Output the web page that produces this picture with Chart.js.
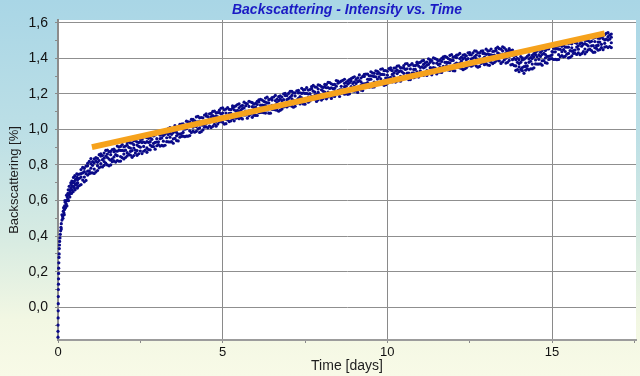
<!DOCTYPE html>
<html><head><meta charset="utf-8">
<script src="https://cdn.jsdelivr.net/npm/chart.js@4.4.0/dist/chart.umd.min.js"></script>
<style>
html,body{margin:0;padding:0;}
body{width:640px;height:376px;overflow:hidden;background:linear-gradient(to bottom,#a9d6e6 0%,#bcdfe6 35%,#d9ece2 65%,#f2f7e3 85%,#f8fae7 100%);}
#wrap{position:relative;width:640px;height:376px;}
</style></head><body><div id="wrap"><canvas id="c" width="640" height="376"></canvas></div>
<script>
// Early phase (first hours): time [days] and backscattering [%]
const earlyTime = [0,0,0.002,0.004,0.006,0.008,0.01,0.012,0.014,0.016,0.018,0.02,0.025,0.03,0.035,0.04,0.045,0.05,0.06,0.07,0.08,0.09,0.1,0.1,0.12,0.12,0.14,0.16,0.18,0.2,0.2,0.22,0.25,0.25,0.28,0.3,0.3,0.33,0.35,0.38,0.4,0.4,0.43,0.45,0.48,0.5,0.5,0.53,0.55,0.58,0.58,
  0.15,0.17,0.19,0.21,0.23,0.26,0.27,0.29,0.31,0.32,0.34,0.36,0.37,0.39,0.41,0.42,0.44,0.46,0.47,0.49,0.51,0.52,0.54,0.56,0.57,0.59];
const earlyValue = [-0.168,-0.135,-0.1,-0.06,-0.02,0.02,0.06,0.1,0.13,0.16,0.19,0.22,0.25,0.28,0.3,0.33,0.35,0.37,0.39,0.41,0.43,0.45,0.47,0.44,0.49,0.52,0.51,0.54,0.53,0.57,0.55,0.59,0.6,0.58,0.62,0.61,0.64,0.63,0.66,0.64,0.67,0.69,0.66,0.7,0.68,0.71,0.67,0.69,0.72,0.7,0.73,
  0.50,0.56,0.52,0.60,0.56,0.63,0.57,0.60,0.66,0.60,0.68,0.62,0.65,0.70,0.64,0.71,0.68,0.65,0.73,0.70,0.74,0.66,0.72,0.69,0.75,0.67];

// Main phase, scan set 1: times [days] and four readings per time [%]
const time = [0.6,0.7,0.8,0.9,1.0,1.1,1.2,1.3,1.4,1.5,1.6,1.7,1.8,1.9,2.0,2.1,2.2,2.3,2.4,2.5,2.6,2.7,2.8,2.9,3.0,3.1,3.2,3.3,3.4,3.5,3.6,3.7,3.8,3.9,4.0,4.1,4.2,4.3,4.4,4.5,4.6,4.7,4.8,4.9,5.0,5.1,5.2,5.3,5.4,5.5,5.6,5.7,5.8,5.9,6.0,6.1,6.2,6.3,6.4,6.5,6.6,6.7,6.8,6.9,7.0,7.1,7.2,7.3,7.4,7.5,7.6,7.7,7.8,7.9,8.0,8.1,8.2,8.3,8.4,8.5,8.6,8.7,8.8,8.9,9.0,9.1,9.2,9.3,9.4,9.5,9.6,9.7,9.8,9.9,10.0,10.1,10.2,10.3,10.4,10.5,10.6,10.7,10.8,10.9,11.0,11.1,11.2,11.3,11.4,11.5,11.6,11.7,11.8,11.9,12.0,12.1,12.2,12.3,12.4,12.5,12.6,12.7,12.8,12.9,13.0,13.1,13.2,13.3,13.4,13.5,13.6,13.7,13.8,13.9,14.0,14.1,14.2,14.3,14.4,14.5,14.6,14.7,14.8,14.9,15.0,15.1,15.2,15.3,15.4,15.5,15.6,15.7,15.8,15.9,16.0,16.1,16.2,16.3,16.4,16.5,16.6,16.7,16.8];
const scanA = [0.678,0.751,0.732,0.809,0.782,0.812,0.769,0.850,0.798,0.861,0.827,0.889,0.852,0.882,0.834,0.911,0.855,0.914,0.881,0.944,0.904,0.931,0.885,0.963,0.908,0.967,0.934,0.997,0.956,0.982,0.937,1.016,0.962,1.023,0.992,1.056,1.016,1.043,0.997,1.075,1.019,1.078,1.045,1.108,1.067,1.092,1.044,1.120,1.063,1.121,1.086,1.147,1.104,1.128,1.079,1.154,1.096,1.153,1.118,1.179,1.137,1.162,1.114,1.190,1.133,1.191,1.157,1.219,1.177,1.202,1.153,1.228,1.170,1.227,1.192,1.253,1.210,1.234,1.185,1.260,1.202,1.259,1.224,1.285,1.242,1.268,1.221,1.298,1.242,1.301,1.266,1.327,1.284,1.308,1.259,1.334,1.276,1.333,1.298,1.359,1.316,1.340,1.291,1.366,1.308,1.365,1.330,1.391,1.348,1.372,1.322,1.396,1.337,1.393,1.357,1.417,1.373,1.396,1.346,1.420,1.361,1.417,1.381,1.441,1.397,1.420,1.370,1.444,1.385,1.441,1.400,1.454,1.392,1.392,1.324,1.390,1.333,1.396,1.367,1.434,1.394,1.421,1.375,1.453,1.398,1.455,1.420,1.481,1.438,1.462,1.413,1.488,1.430,1.487,1.452,1.513,1.470,1.494,1.445,1.520,1.463,1.521,1.487];
const scanB = [0.718,0.690,0.781,0.765,0.836,0.777,0.837,0.808,0.838,0.800,0.876,0.845,0.906,0.847,0.902,0.869,0.895,0.853,0.930,0.900,0.958,0.896,0.953,0.921,0.948,0.906,0.983,0.953,1.010,0.947,1.005,0.974,1.002,0.962,1.041,1.012,1.070,1.008,1.065,1.033,1.059,1.017,1.094,1.064,1.121,1.057,1.112,1.078,1.103,1.060,1.135,1.103,1.158,1.093,1.147,1.112,1.136,1.092,1.167,1.135,1.191,1.127,1.182,1.148,1.173,1.130,1.206,1.175,1.231,1.167,1.221,1.186,1.210,1.166,1.241,1.209,1.264,1.199,1.253,1.218,1.242,1.198,1.273,1.241,1.296,1.233,1.289,1.256,1.282,1.240,1.315,1.283,1.338,1.273,1.327,1.292,1.316,1.272,1.347,1.315,1.370,1.305,1.359,1.324,1.348,1.304,1.379,1.347,1.402,1.337,1.390,1.354,1.377,1.332,1.406,1.373,1.427,1.361,1.414,1.378,1.401,1.356,1.430,1.397,1.451,1.385,1.438,1.402,1.425,1.380,1.449,1.410,1.446,1.357,1.392,1.348,1.373,1.335,1.416,1.390,1.448,1.386,1.443,1.411,1.438,1.394,1.469,1.437,1.492,1.427,1.481,1.446,1.470,1.426,1.501,1.469,1.524,1.459,1.513,1.478,1.503,1.460,1.536];
const scanC = [0.747,0.732,0.705,0.743,0.755,0.834,0.815,0.790,0.867,0.842,0.800,0.823,0.825,0.904,0.880,0.851,0.924,0.895,0.854,0.878,0.877,0.953,0.931,0.903,0.977,0.948,0.907,0.931,0.929,1.004,0.983,0.956,1.031,1.004,0.965,0.990,0.989,1.065,1.043,1.015,1.088,1.059,1.018,1.042,1.040,1.114,1.090,1.060,1.132,1.102,1.059,1.081,1.077,1.150,1.125,1.094,1.165,1.134,1.091,1.113,1.110,1.184,1.160,1.130,1.202,1.172,1.130,1.153,1.150,1.224,1.199,1.168,1.239,1.208,1.165,1.187,1.183,1.256,1.231,1.200,1.271,1.240,1.197,1.219,1.215,1.290,1.267,1.238,1.311,1.282,1.239,1.261,1.257,1.330,1.305,1.274,1.345,1.314,1.271,1.293,1.289,1.362,1.337,1.306,1.377,1.346,1.303,1.325,1.321,1.394,1.368,1.336,1.406,1.374,1.330,1.351,1.346,1.418,1.392,1.360,1.430,1.398,1.354,1.375,1.370,1.442,1.416,1.384,1.454,1.422,1.373,1.388,1.365,1.414,1.370,1.330,1.402,1.377,1.340,1.368,1.367,1.443,1.421,1.393,1.467,1.436,1.393,1.415,1.411,1.484,1.459,1.428,1.499,1.468,1.425,1.447,1.443,1.516,1.491,1.460,1.532,1.502,1.460];
const scanD = [0.699,0.774,0.763,0.795,0.807,0.752,0.796,0.862,0.819,0.884,0.858,0.875,0.877,0.822,0.861,0.923,0.876,0.937,0.912,0.930,0.929,0.871,0.912,0.975,0.929,0.990,0.965,0.983,0.981,0.922,0.964,1.028,0.983,1.046,1.023,1.042,1.041,0.983,1.024,1.087,1.040,1.101,1.076,1.094,1.092,1.032,1.071,1.132,1.084,1.144,1.117,1.133,1.129,1.068,1.106,1.166,1.117,1.176,1.149,1.165,1.162,1.102,1.141,1.202,1.154,1.214,1.188,1.205,1.202,1.142,1.180,1.240,1.191,1.250,1.223,1.239,1.235,1.174,1.212,1.272,1.223,1.282,1.255,1.271,1.267,1.208,1.248,1.310,1.263,1.324,1.297,1.313,1.309,1.248,1.286,1.346,1.297,1.356,1.329,1.345,1.341,1.280,1.318,1.378,1.329,1.388,1.361,1.377,1.373,1.312,1.349,1.408,1.358,1.416,1.388,1.403,1.398,1.336,1.373,1.432,1.382,1.440,1.412,1.427,1.422,1.360,1.397,1.456,1.406,1.464,1.431,1.440,1.417,1.332,1.351,1.402,1.354,1.419,1.398,1.420,1.419,1.361,1.402,1.465,1.419,1.478,1.451,1.467,1.463,1.402,1.440,1.500,1.451,1.510,1.483,1.499,1.495,1.434,1.472,1.532,1.484,1.544,1.518];

// Main phase, scan set 2: times [days] and three readings per time [%]
const time2 = [0.65,0.75,0.85,0.95,1.05,1.15,1.25,1.35,1.45,1.55,1.65,1.75,1.85,1.95,2.05,2.15,2.25,2.35,2.45,2.55,2.65,2.75,2.85,2.95,3.05,3.15,3.25,3.35,3.45,3.55,3.65,3.75,3.85,3.95,4.05,4.15,4.25,4.35,4.45,4.55,4.65,4.75,4.85,4.95,5.05,5.15,5.25,5.35,5.45,5.55,5.65,5.75,5.85,5.95,6.05,6.15,6.25,6.35,6.45,6.55,6.65,6.75,6.85,6.95,7.05,7.15,7.25,7.35,7.45,7.55,7.65,7.75,7.85,7.95,8.05,8.15,8.25,8.35,8.45,8.55,8.65,8.75,8.85,8.95,9.05,9.15,9.25,9.35,9.45,9.55,9.65,9.75,9.85,9.95,10.05,10.15,10.25,10.35,10.45,10.55,10.65,10.75,10.85,10.95,11.05,11.15,11.25,11.35,11.45,11.55,11.65,11.75,11.85,11.95,12.05,12.15,12.25,12.35,12.45,12.55,12.65,12.75,12.85,12.95,13.05,13.15,13.25,13.35,13.45,13.55,13.65,13.75,13.85,13.95,14.05,14.15,14.25,14.35,14.45,14.55,14.65,14.75,14.85,14.95,15.05,15.15,15.25,15.35,15.45,15.55,15.65,15.75,15.85,15.95,16.05,16.15,16.25,16.35,16.45,16.55,16.65,16.75];
const scanE = [0.725,0.715,0.793,0.767,0.819,0.761,0.825,0.830,0.810,0.875,0.834,0.879,0.821,0.882,0.883,0.859,0.923,0.883,0.926,0.864,0.925,0.927,0.904,0.969,0.930,0.973,0.911,0.971,0.972,0.949,1.015,0.977,1.022,0.962,1.023,1.025,1.002,1.067,1.028,1.072,1.010,1.070,1.071,1.047,1.110,1.069,1.111,1.048,1.107,1.107,1.081,1.143,1.101,1.142,1.078,1.136,1.135,1.109,1.171,1.129,1.171,1.108,1.167,1.167,1.142,1.205,1.164,1.206,1.143,1.202,1.201,1.175,1.237,1.195,1.236,1.172,1.230,1.229,1.203,1.265,1.223,1.264,1.200,1.258,1.258,1.234,1.298,1.258,1.301,1.238,1.296,1.295,1.269,1.331,1.289,1.330,1.266,1.324,1.323,1.297,1.359,1.317,1.358,1.294,1.352,1.351,1.325,1.387,1.345,1.385,1.320,1.377,1.375,1.348,1.409,1.366,1.406,1.341,1.398,1.396,1.369,1.430,1.387,1.427,1.362,1.419,1.417,1.390,1.451,1.406,1.440,1.363,1.400,1.377,1.337,1.395,1.357,1.404,1.346,1.408,1.410,1.387,1.452,1.413,1.456,1.392,1.450,1.449,1.423,1.485,1.443,1.484,1.420,1.478,1.477,1.451,1.513,1.471,1.512,1.448,1.507,1.507];
const scanF = [0.684,0.755,0.713,0.820,0.756,0.841,0.784,0.789,0.850,0.795,0.887,0.816,0.901,0.841,0.842,0.899,0.843,0.936,0.863,0.944,0.884,0.886,0.944,0.889,0.983,0.910,0.991,0.930,0.931,0.989,0.935,1.030,0.959,1.042,0.982,0.984,1.042,0.987,1.081,1.009,1.090,1.029,1.030,1.087,1.030,1.122,1.048,1.128,1.066,1.066,1.121,1.063,1.154,1.079,1.158,1.095,1.094,1.149,1.091,1.182,1.108,1.188,1.126,1.126,1.182,1.125,1.217,1.143,1.223,1.161,1.160,1.215,1.157,1.248,1.173,1.252,1.189,1.188,1.243,1.185,1.276,1.201,1.280,1.217,1.217,1.274,1.218,1.311,1.238,1.318,1.255,1.254,1.309,1.251,1.342,1.267,1.346,1.283,1.282,1.337,1.279,1.370,1.295,1.374,1.311,1.310,1.365,1.307,1.398,1.322,1.400,1.336,1.334,1.388,1.329,1.419,1.343,1.421,1.357,1.355,1.409,1.350,1.440,1.364,1.442,1.378,1.376,1.430,1.371,1.459,1.377,1.443,1.359,1.336,1.377,1.315,1.410,1.341,1.426,1.367,1.369,1.427,1.372,1.466,1.393,1.472,1.409,1.408,1.463,1.405,1.496,1.421,1.500,1.437,1.436,1.491,1.433,1.524,1.449,1.528,1.466,1.466];
const scanG = [0.748,0.787,0.751,0.751,0.798,0.823,0.858,0.853,0.882,0.833,0.818,0.858,0.883,0.915,0.906,0.931,0.881,0.867,0.905,0.926,0.958,0.950,0.976,0.927,0.914,0.952,0.973,1.004,0.995,1.021,0.973,0.961,1.001,1.024,1.056,1.048,1.074,1.025,1.012,1.051,1.072,1.103,1.094,1.119,1.068,1.053,1.090,1.110,1.140,1.130,1.153,1.101,1.085,1.121,1.140,1.169,1.158,1.181,1.129,1.113,1.150,1.170,1.200,1.190,1.214,1.163,1.148,1.185,1.205,1.235,1.224,1.247,1.195,1.179,1.215,1.234,1.263,1.252,1.275,1.223,1.207,1.243,1.262,1.291,1.281,1.306,1.256,1.242,1.280,1.300,1.329,1.318,1.341,1.289,1.273,1.309,1.328,1.357,1.346,1.369,1.317,1.301,1.337,1.356,1.385,1.374,1.397,1.345,1.329,1.364,1.382,1.410,1.398,1.420,1.367,1.350,1.385,1.403,1.431,1.419,1.441,1.388,1.371,1.406,1.424,1.452,1.440,1.462,1.409,1.390,1.419,1.425,1.433,1.400,1.409,1.353,1.341,1.383,1.408,1.441,1.433,1.459,1.410,1.397,1.435,1.454,1.483,1.472,1.495,1.443,1.427,1.463,1.482,1.511,1.500,1.523,1.471,1.455,1.491,1.510,1.540,1.530];

// Linear trend (orange)
const trendTime = [1.03, 16.6];
const trendValue = [0.90, 1.54];

// Axis ticks that carry labels / grid lines
const xLabelDays = [0, 5, 10, 15];
const yLabelValues = [0.0, 0.2, 0.4, 0.6, 0.8, 1.0, 1.2, 1.4, 1.6];

const points = [];
for (let i = 0; i < earlyTime.length; i++) points.push({x: earlyTime[i], y: earlyValue[i]});
[scanA, scanB, scanC, scanD].forEach(arr => {
  for (let i = 0; i < time.length; i++) points.push({x: time[i], y: arr[i]});
});
[scanE, scanF, scanG].forEach(arr => {
  for (let i = 0; i < time2.length; i++) points.push({x: time2[i], y: arr[i]});
});
const trend = trendTime.map((t, i) => ({x: t, y: trendValue[i]}));

const plotBg = {
  id: 'plotBg',
  beforeDraw(chart) {
    const {ctx, chartArea: a} = chart;
    ctx.save();
    ctx.fillStyle = '#ffffff';
    ctx.fillRect(a.left, a.top, a.right - a.left, a.bottom - a.top);
    ctx.restore();
  }
};

const FONT = 'Liberation Sans, Arial, sans-serif';
const isLabelX = v => xLabelDays.some(d => Math.abs(d - v) < 1e-6);
const isLabelY = v => yLabelValues.some(d => Math.abs(d - v) < 1e-6);

new Chart(document.getElementById('c'), {
  type: 'scatter',
  data: {
    datasets: [
      { label: 'Trend', data: trend, showLine: true, borderColor: '#f6a21c', backgroundColor: '#f6a21c',
        borderWidth: 6, pointRadius: 0, order: 0, borderCapStyle: 'butt' },
      { label: 'Backscattering', data: points, backgroundColor: '#0a0a88', borderColor: '#0a0a88',
        pointRadius: 1.6, borderWidth: 0, order: 1, clip: 4 }
    ]
  },
  plugins: [plotBg],
  options: {
    responsive: false,
    animation: false,
    events: [],
    layout: { padding: { left: 0, right: 4, top: 0, bottom: 0 } },
    plugins: {
      legend: { display: false },
      tooltip: { enabled: false },
      title: {
        display: true, text: 'Backscattering - Intensity vs. Time', fullSize: false,
        color: '#1a1ac4',
        font: { family: FONT, size: 14, weight: 'bold', style: 'italic', lineHeight: 1.2 },
        padding: { top: 2, bottom: 1.2 }
      }
    },
    scales: {
      x: {
        type: 'linear', position: 'bottom', min: 0, max: 17.55,
        afterFit: s => { s.height = 36; },
        border: { display: true, color: '#9c9c9c', width: 2 },
        grid: {
          color: c => (c.tick && c.tick.value > 0 && isLabelX(c.tick.value)) ? '#8a8a8a' : 'rgba(0,0,0,0)',
          lineWidth: 1, drawTicks: true, tickLength: 3, tickColor: '#8a8a8a'
        },
        ticks: {
          stepSize: 2.5, includeBounds: false, autoSkip: false, maxRotation: 0, padding: 2,
          color: '#111111', font: { family: FONT, size: 13 },
          callback: v => isLabelX(v) ? String(Math.round(v)) : ''
        },
        title: { display: true, text: 'Time [days]', color: '#1e1e1e',
          font: { family: FONT, size: 14, lineHeight: 1.2 }, padding: { top: 0, bottom: 1 } }
      },
      y: {
        type: 'linear', position: 'left', min: -0.184, max: 1.615,
        afterFit: s => { s.width = 58; },
        border: { display: true, color: '#8c8c8c', width: 2 },
        grid: {
          color: c => (c.tick && isLabelY(c.tick.value)) ? '#8f8f8f' : 'rgba(0,0,0,0)',
          lineWidth: 1, drawTicks: true, tickLength: 3, tickColor: '#8a8a8a'
        },
        ticks: {
          stepSize: 0.1, includeBounds: false, autoSkip: false, padding: 7,
          color: '#111111', font: { family: FONT, size: 14 },
          callback: v => isLabelY(v) ? v.toFixed(1).replace('.', ',') : ''
        },
        title: { display: true, text: 'Backscattering [%]', color: '#1e1e1e',
          font: { family: FONT, size: 13, lineHeight: 1.2 }, padding: { top: 7, bottom: 0 } }
      }
    }
  }
});
</script></body></html>
